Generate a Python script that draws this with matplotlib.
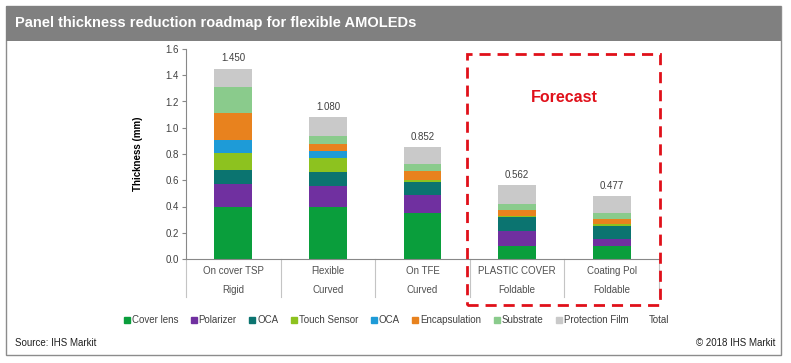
import numpy as np
import matplotlib
matplotlib.use('Agg')
import matplotlib.pyplot as plt
from matplotlib.patches import Rectangle
from matplotlib.lines import Line2D

plt.rcParams['font.family'] = ['Liberation Sans', 'DejaVu Sans']

# data (mm)
cats_top = ['On cover TSP', 'Flexible', 'On TFE', 'PLASTIC COVER', 'Coating Pol']
cats_bot = ['Rigid', 'Curved', 'Curved', 'Foldable', 'Foldable']
layers = ['Cover lens', 'Polarizer', 'OCA', 'Touch Sensor', 'OCA',
          'Encapsulation', 'Substrate', 'Protection Film']
cover_lens = [0.40, 0.40, 0.35, 0.10, 0.10]
polarizer = [0.175, 0.16, 0.135, 0.115, 0.05]
oca1 = [0.10, 0.10, 0.105, 0.105, 0.10]
touch = [0.135, 0.11, 0.012, 0.01, 0.015]
oca2 = [0.10, 0.05, 0.0, 0.0, 0.0]
encap = [0.20, 0.06, 0.07, 0.045, 0.04]
substrate = [0.20, 0.06, 0.05, 0.045, 0.047]
protection = [0.14, 0.14, 0.13, 0.142, 0.125]
totals = [1.450, 1.080, 0.852, 0.562, 0.477]

colors = ['#0a9e3c', '#7030a0', '#0b7470', '#8dc21f', '#1e9bd7',
          '#e8821e', '#8acb8c', '#c9c9c9']

series = [cover_lens, polarizer, oca1, touch, oca2, encap, substrate, protection]

fig = plt.figure(figsize=(7.91, 3.63), dpi=100)

# outer frame and title band
W, H = 791.0, 363.0
fig.patches.append(Rectangle((6 / W, 1 - 355 / H), 775 / W, 349 / H, transform=fig.transFigure,
                             facecolor='white', edgecolor='#8c8c8c', lw=1.0, zorder=0))
fig.patches.append(Rectangle((6 / W, 1 - 41 / H), 775 / W, 35 / H, transform=fig.transFigure,
                             facecolor='#808080', edgecolor='none', zorder=1))
fig.text(15 / W, 1 - 23 / H, 'Panel thickness reduction roadmap for flexible AMOLEDs',
         color='white', fontsize=10.5, fontweight='bold', va='center', ha='left')

ax = fig.add_axes([186 / W, 1 - 259 / H, 473 / W, 210 / H])
ax.set_zorder(3)
ax.patch.set_visible(False)
x = np.arange(len(totals))
bottom = np.zeros(len(totals))
for vals, c, name in zip(series, colors, layers):
    ax.bar(x, vals, 0.40, bottom=bottom, color=c, label=name, zorder=2)
    bottom += np.array(vals)

for xi, t in zip(x, totals):
    ax.text(xi, t + 0.04, '%.3f' % t, ha='center', va='bottom', fontsize=7, color='#404040')

ax.set_xlim(-0.5, len(totals) - 0.5)
ax.set_ylim(0, 1.6)
ax.set_yticks(np.arange(0, 1.61, 0.2))
ax.set_yticklabels(['%.1f' % v for v in np.arange(0, 1.61, 0.2)], fontsize=7, color='#404040')
ax.tick_params(axis='y', direction='out', length=3, color='#888888', pad=2)
ax.set_xticks([])
for s in ['top', 'right']:
    ax.spines[s].set_visible(False)
ax.spines['left'].set_color('#888888')
ax.spines['bottom'].set_color('#888888')
ax.set_ylabel('Thickness (mm)', fontsize=7, fontweight='bold', labelpad=16)

# category dividers and labels
for b in np.arange(-0.5, len(totals), 1.0):
    ax.plot([b, b], [0, -0.29], color='#c4c4c4', lw=0.8, clip_on=False)
for xi, t1, t2 in zip(x, cats_top, cats_bot):
    ax.text(xi, -0.095, t1, ha='center', va='center', fontsize=7, color='#505050')
    ax.text(xi, -0.235, t2, ha='center', va='center', fontsize=7, color='#505050')

# forecast box
fig.patches.append(Rectangle((467 / W, 1 - 305 / H), 193 / W, 251 / H, transform=fig.transFigure,
                             facecolor='none', edgecolor='#e0101a', lw=2.0, ls=(0, (4, 2.5)), zorder=5))
fig.text(564 / W, 1 - 98 / H, 'Forecast', color='#e0101a', fontsize=11.5, fontweight='bold',
         ha='center', va='center')

# legend
handles = [Line2D([], [], marker='s', ls='', color=c, markersize=4) for c in colors]
handles.append(Line2D([], [], marker='s', ls='', color='white', markersize=4))
fig.legend(handles, layers + ['Total'], loc='center', bbox_to_anchor=(396 / W, 1 - 320 / H),
           ncol=9, frameon=False, fontsize=7, handletextpad=0.1, columnspacing=1.2,
           handlelength=0.8, labelcolor='#404040')

fig.text(15 / W, 1 - 343 / H, 'Source: IHS Markit', fontsize=7, color='#202020', va='center')
fig.text(775 / W, 1 - 343 / H, '\u00a9 2018 IHS Markit', fontsize=7, color='#202020',
         va='center', ha='right')

fig.savefig('out.png', dpi=100)
